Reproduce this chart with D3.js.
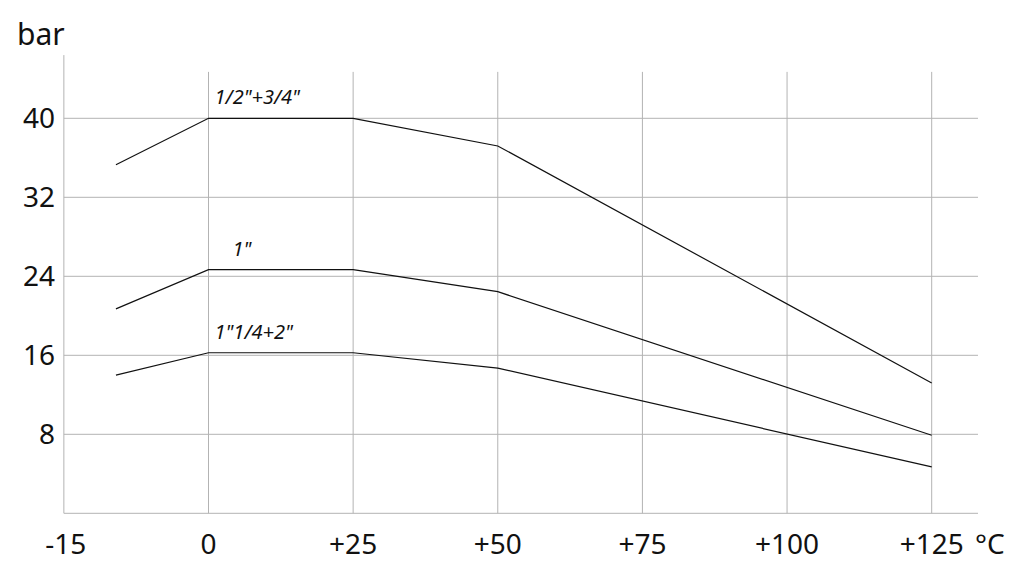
<!DOCTYPE html>
<html><head><meta charset="utf-8">
<script src="https://cdn.jsdelivr.net/npm/d3@7"></script>
<style>
body{margin:0;background:#fff;}
svg{display:block;}
text{font-family:"Noto Sans",sans-serif;fill:#111;}
</style></head>
<body><svg id="c" width="1024" height="574"></svg>
<script>
// Data
const temps = [-16, 0, 25, 50, 125];
const seriesNames = ['1/2"+3/4"', '1"', '1"1/4+2"'];
const s1 = [35.3, 40, 40, 37.2, 13.2];
const s2 = [20.7, 24.67, 24.67, 22.44, 7.9];
const s3 = [14.0, 16.26, 16.26, 14.7, 4.7];
const xTickValues = [-25, 0, 25, 50, 75, 100, 125];
const xTickLabels = ["-15", "0", "+25", "+50", "+75", "+100", "+125"];
const yTickValues = [8, 16, 24, 32, 40];

const svg = d3.select("#c");
const x = d3.scaleLinear().domain([0, 125]).range([208.5, 931.7]);
const y = d3.scaleLinear().domain([0, 40]).range([513.3, 118.3]);
const xMin = -25, xMax = 133, yGridTop = 44.7, yAxisTop = 46.4;

const grid = "#b3b3b3";
// horizontal grid
svg.append("g").selectAll("line").data(yTickValues).join("line")
  .attr("x1", x(xMin)).attr("x2", x(xMax))
  .attr("y1", d => y(d)).attr("y2", d => y(d))
  .attr("stroke", grid).attr("stroke-width", 1);
// vertical grid
svg.append("g").selectAll("line").data(xTickValues.filter(d => d > xMin)).join("line")
  .attr("x1", d => x(d)).attr("x2", d => x(d))
  .attr("y1", y(0)).attr("y2", y(yGridTop))
  .attr("stroke", grid).attr("stroke-width", 1);
// axes lines
svg.append("line").attr("x1", x(xMin)).attr("x2", x(xMin))
  .attr("y1", y(0)).attr("y2", y(yAxisTop)).attr("stroke", grid);
svg.append("line").attr("x1", x(xMin)).attr("x2", x(xMax))
  .attr("y1", y(0)).attr("y2", y(0)).attr("stroke", grid);

// y tick labels
svg.append("g").selectAll("text").data(yTickValues).join("text")
  .attr("x", 55).attr("y", d => y(d)).attr("dy", "0.36em")
  .attr("text-anchor", "end").attr("font-size", 28).text(d => d);
// x tick labels
svg.append("g").selectAll("text").data(xTickValues).join("text")
  .attr("x", (d, i) => x(d) + (i === 0 ? 2 : 0)).attr("y", 554)
  .attr("text-anchor", "middle").attr("font-size", 28)
  .text((d, i) => xTickLabels[i]);
svg.append("text").attr("x", 975).attr("y", 554).attr("font-size", 28).text("°C");
svg.append("text").attr("x", 17).attr("y", 45).attr("font-size", 30).text("bar");

// lines
const line = d3.line().x((d, i) => x(temps[i])).y(d => y(d));
const all = [s1, s2, s3];
svg.append("g").selectAll("path").data(all).join("path")
  .attr("d", d => line(d)).attr("fill", "none")
  .attr("stroke", "#111").attr("stroke-width", 1.2);

// series labels
const labelDx = [6, 24, 6];
svg.append("g").selectAll("text").data(all).join("text")
  .attr("x", (d, i) => x(0) + labelDx[i]).attr("y", d => y(d[1]) - 14)
  .attr("font-size", 20).attr("font-style", "italic")
  .text((d, i) => seriesNames[i]);
</script></body></html>
